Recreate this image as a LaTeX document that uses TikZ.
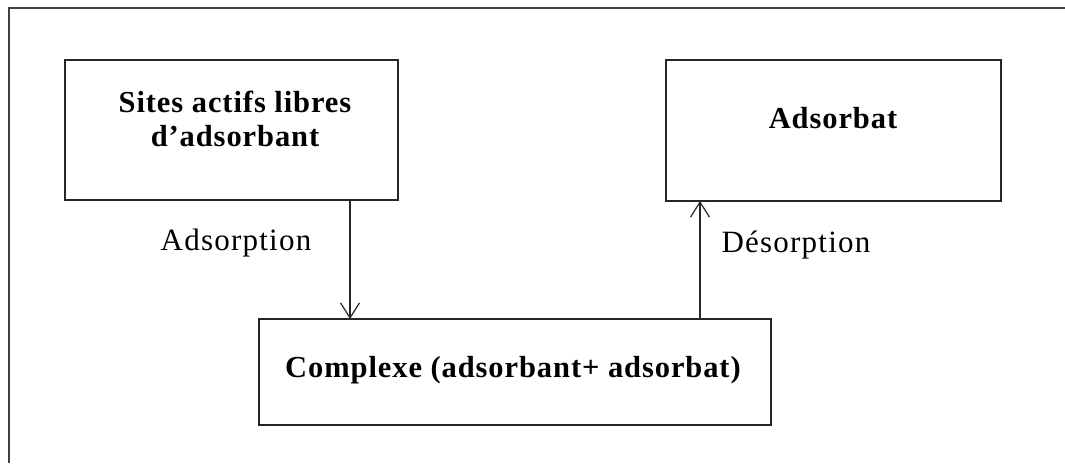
\documentclass[tikz,border=0pt]{standalone}
\usepackage{fontspec}
\setmainfont{Liberation Serif}
\newfontfamily\lblfont[LetterSpace=4]{Liberation Serif}
\newfontfamily\boxfont[LetterSpace=3]{Liberation Serif}
\usetikzlibrary{arrows.meta}
\tikzset{
  box/.style={draw=black!85, line width=1.5pt, minimum width=#1, inner sep=0pt, outer sep=0pt},
  boxtext/.style={font=\boxfont\fontsize{30.5}{34}\selectfont\bfseries, align=center, inner sep=0pt},
  lbl/.style={font=\lblfont\fontsize{31}{34}\selectfont, inner sep=0pt},
  arr/.style={line width=1.3pt, draw=black!85, -{Straight Barb[length=15pt, width=19pt, line width=1.2pt]}},
  frame/.style={line width=2pt, draw=black!75}
}
\begin{document}
\begin{tikzpicture}[x=1pt,y=-1pt]
\useasboundingbox (0,0) rectangle (1065,463);
\draw[frame] (9,463) -- (9,8) -- (1065,8);
\node[box=333pt, minimum height=140pt] (b1) at (231.5,130) {};
\node[box=335pt, minimum height=141pt] (b2) at (833.5,130.5) {};
\node[box=512pt, minimum height=106pt] (b3) at (515,372) {};
\node[boxtext] (t1) at (235,119) {Sites actifs libres\\d’adsorbant};
\node[boxtext] (t2) at (833,118) {Adsorbat};
\node[boxtext] (t3) at (513,370) {Complexe (adsorbant+ adsorbat)};
\node[lbl] (l1) at (236,243) {Adsorption};
\node[lbl] (l2) at (796,245) {Désorption};
\coordinate (xa) at (350,0);
\coordinate (xb) at (700,0);
\draw[arr] (xa |- b1.south) -- (xa |- b3.north);
\draw[arr] (xb |- b3.north) -- (xb |- b2.south);
\end{tikzpicture}
\end{document}
